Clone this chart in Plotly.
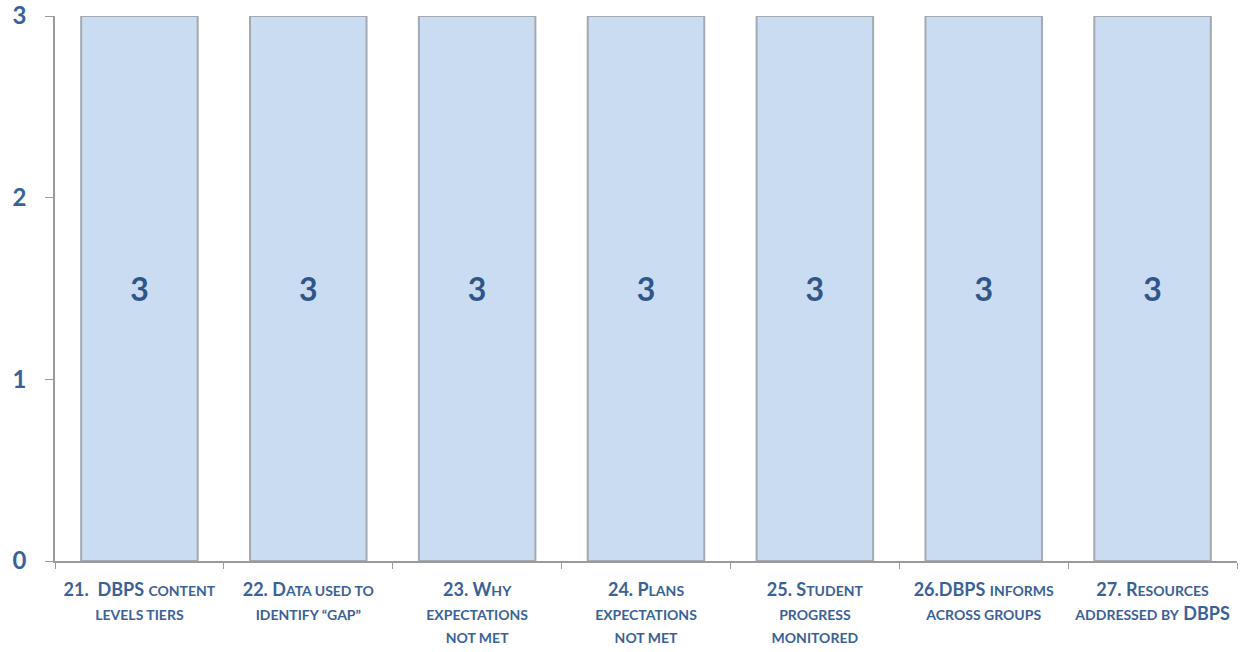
import plotly.graph_objects as go

S = "<span style='font-size:14px'>{}</span>"
categories = [
    "21.  DBPS " + S.format("CONTENT") + "<br>" + S.format("LEVELS TIERS"),
    "22. D" + S.format("ATA USED TO") + "<br>" + S.format("IDENTIFY “GAP”"),
    "23. W" + S.format("HY") + "<br>" + S.format("EXPECTATIONS") + "<br>" + S.format("NOT MET"),
    "24. P" + S.format("LANS") + "<br>" + S.format("EXPECTATIONS") + "<br>" + S.format("NOT MET"),
    "25. S" + S.format("TUDENT") + "<br>" + S.format("PROGRESS") + "<br>" + S.format("MONITORED"),
    "26.DBPS " + S.format("INFORMS") + "<br>" + S.format("ACROSS GROUPS"),
    "27. R" + S.format("ESOURCES") + "<br>" + S.format("ADDRESSED BY") + " DBPS",
]
values = [3, 3, 3, 3, 3, 3, 3]
y_ticks = [0, 1, 2, 3]

blue = "#3A6297"

fig = go.Figure()
fig.add_trace(go.Bar(
    x=categories, y=values,
    width=0.69,
    marker=dict(color="#CADCF1", line=dict(color="#A3A9B0", width=2)),
    text=[str(v) for v in values],
    textposition="inside", insidetextanchor="middle",
    textfont=dict(family="Lato", size=32, color="#2F5589", weight="bold"),
    hoverinfo="skip",
))

fig.update_layout(
    width=1244, height=652,
    margin=dict(l=55, r=7, t=16, b=91, autoexpand=False),
    paper_bgcolor="white", plot_bgcolor="white",
    showlegend=False,
    font=dict(family="Lato", color=blue),
    bargap=0.31,
)
fig.update_xaxes(
    showline=True, linecolor="#9B9B9B", linewidth=1.5,
    ticks="outside", tickson="boundaries", ticklen=6, tickcolor="#9B9B9B",
    tickfont=dict(family="Lato", size=18, color=blue, weight="bold"),
    tickangle=0, showgrid=False, automargin=False, ticklabelstandoff=12,
)
fig.update_yaxes(
    range=[0, 3], tickvals=y_ticks, showline=True, linecolor="#9B9B9B", linewidth=1.5,
    ticks="outside", ticklen=8, tickcolor="#9B9B9B", showgrid=False, zeroline=False,
    tickfont=dict(family="Lato", size=24, color=blue, weight="bold"),
    ticklabelstandoff=14, automargin=False, ticklabeloverflow="allow",
)

fig.write_html("out.html", config={"displayModeBar": False},
               post_script="document.body.style.margin='0px';")
